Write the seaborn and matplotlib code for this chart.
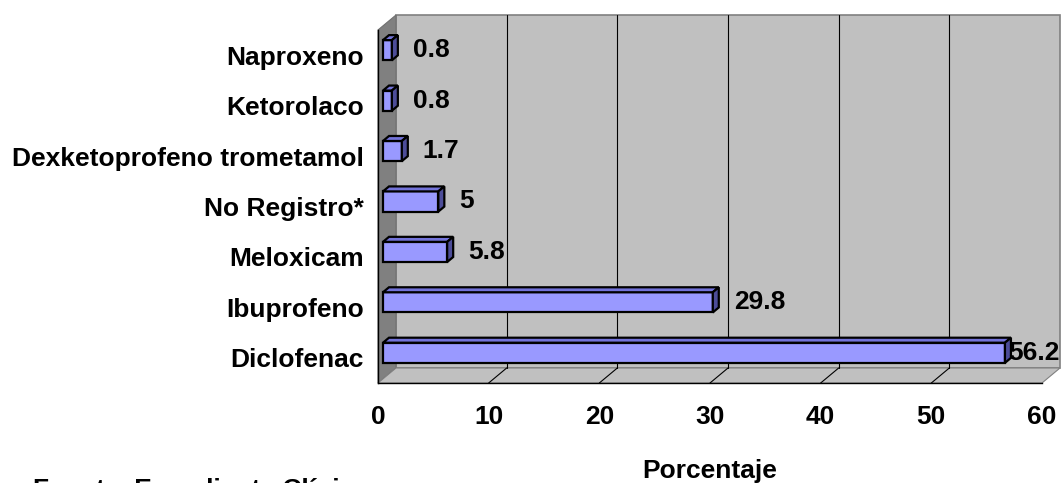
import numpy as np
import pandas as pd
import matplotlib
matplotlib.use("Agg")
import matplotlib.pyplot as plt
import matplotlib.transforms as mtransforms
from matplotlib.patches import Polygon
from matplotlib.lines import Line2D
import seaborn as sns

# Data (top to bottom)
categories = ["Naproxeno", "Ketorolaco", "Dexketoprofeno trometamol",
              "No Registro*", "Meloxicam", "Ibuprofeno", "Diclofenac"]
percentages = [0.8, 0.8, 1.7, 5, 5.8, 29.8, 56.2]
x_ticks = [0, 10, 20, 30, 40, 50, 60]
x_label = "Porcentaje"
source_note = "Fuente. Expediente Clínico"

df = pd.DataFrame({"Medicamento": categories, "Porcentaje": percentages})

sns.set_style("white")
plt.rcParams["font.family"] = ["Liberation Sans", "DejaVu Sans"]
plt.rcParams["font.weight"] = "bold"
for key in ["text.color", "axes.labelcolor", "xtick.color", "ytick.color"]:
    plt.rcParams[key] = "black"

FS = 19
DPI = 100
W, H = 1062, 483
fig = plt.figure(figsize=(W / DPI, H / DPI), dpi=DPI)

# plot area (front plane) in pixels
left_px, right_px, top_px, bottom_px = 378, 1042, 30, 383
ax = fig.add_axes([left_px / W, (H - bottom_px) / H,
                   (right_px - left_px) / W, (bottom_px - top_px) / H])
ax.set_facecolor("none")

FACE = "#9999FF"
TOP = "#7373D9"
SIDE = "#4D4D99"
EDGE_LW = 1.6
sns.barplot(data=df, x="Porcentaje", y="Medicamento", orient="h",
            color=FACE, saturation=1, width=0.4, edgecolor="black",
            linewidth=EDGE_LW, ax=ax, zorder=3)

n = len(categories)
ax.set_xlim(0, 60)
ax.set_ylim(n - 0.5, -0.5)

# spines / ticks
for s in ["top", "right"]:
    ax.spines[s].set_visible(False)
for s in ["left", "bottom"]:
    ax.spines[s].set_color("black")
    ax.spines[s].set_linewidth(1.0)
    ax.spines[s].set_zorder(4)

ax.set_xticks(x_ticks)
ax.set_xticklabels([str(t) for t in x_ticks], fontsize=FS, fontweight="bold")
ax.tick_params(axis="x", direction="out", length=6, width=1, pad=10, colors="black")
ax.set_yticks(np.arange(-0.5, n, 1.0))
ax.set_yticklabels([])
ax.set_yticks(np.arange(n), minor=True)
ax.set_yticklabels(categories, minor=True, fontsize=FS, fontweight="bold")
ax.tick_params(axis="y", which="major", direction="out", length=6, width=1, colors="black")
ax.tick_params(axis="y", which="minor", length=0, pad=10, colors="black")
ax.set_xlabel("")
ax.set_ylabel("")

ident = mtransforms.IdentityTransform()


def px(x, y):
    return ax.transData.transform((x, y))


# 3D box: back wall, left wall, floor
D = np.array([18.0, 15.0])
p00 = px(0, n - 0.5)
p01 = px(0, -0.5)
p10 = px(60, n - 0.5)
p11 = px(60, -0.5)

back = Polygon([p00 + D, p01 + D, p11 + D, p10 + D], closed=True,
               facecolor="#C0C0C0", edgecolor="#808080", lw=1.2,
               transform=ident, clip_on=False, zorder=0.5)
leftwall = Polygon([p00, p01, p01 + D, p00 + D], closed=True,
                   facecolor="#808080", edgecolor="#707070", lw=0.8,
                   transform=ident, clip_on=False, zorder=0.6)
floor = Polygon([p00, p10, p10 + D, p00 + D], closed=True,
                facecolor="#C0C0C0", edgecolor="#808080", lw=0.8,
                transform=ident, clip_on=False, zorder=0.6)
for patch in (back, leftwall, floor):
    ax.add_artist(patch)

for v in x_ticks[1:-1]:
    a = px(v, n - 0.5)
    b = px(v, -0.5)
    ax.add_artist(Line2D([a[0], a[0] + D[0]], [a[1], a[1] + D[1]],
                         color="black", lw=0.8, transform=ident,
                         clip_on=False, zorder=0.7))
    ax.add_artist(Line2D([a[0] + D[0], b[0] + D[0]], [a[1] + D[1], b[1] + D[1]],
                         color="black", lw=0.8, transform=ident,
                         clip_on=False, zorder=0.7))

# bars: shift front faces to mid-depth and add top/side faces
S = np.array([5.0, 5.0])
B = np.array([6.0, 5.0])
shift = mtransforms.ScaledTranslation(S[0] / DPI, S[1] / DPI, fig.dpi_scale_trans)
for bar in list(ax.patches):
    if isinstance(bar, Polygon):
        continue
    bar.set_transform(ax.transData + shift)
    bar.set_clip_on(False)
    x0, y0, w, h = bar.get_x(), bar.get_y(), bar.get_width(), bar.get_height()
    tl = px(x0, y0) + S
    tr = px(x0 + w, y0) + S
    br = px(x0 + w, y0 + h) + S
    top_face = Polygon([tl, tr, tr + B, tl + B], closed=True, facecolor=TOP,
                       edgecolor="black", lw=EDGE_LW, joinstyle="miter",
                       transform=ident, clip_on=False, zorder=3)
    side_face = Polygon([tr, br, br + B, tr + B], closed=True, facecolor=SIDE,
                        edgecolor="black", lw=EDGE_LW, joinstyle="miter",
                        transform=ident, clip_on=False, zorder=3)
    ax.add_artist(top_face)
    ax.add_artist(side_face)

# value labels
renderer = fig.canvas.get_renderer()
for i, v in enumerate(percentages):
    t = ax.annotate(f"{v:g}", xy=(v, i), xytext=(26, 5),
                    textcoords="offset pixels", ha="left", va="center",
                    fontsize=FS, fontweight="bold", color="black",
                    annotation_clip=False, zorder=5)
    ext = t.get_window_extent(renderer)
    if ext.x1 > W - 2:
        t.xyann = (26 - (ext.x1 - (W - 2)), 5)

fig.text((left_px + right_px) / 2 / W, (H - 478) / H, x_label,
         ha="center", va="baseline", fontsize=FS, fontweight="bold")
fig.text(33 / W, (H - 497) / H, source_note, ha="left", va="baseline",
         fontsize=FS, fontweight="bold")

fig.savefig("out.png", dpi=DPI, facecolor="white")
